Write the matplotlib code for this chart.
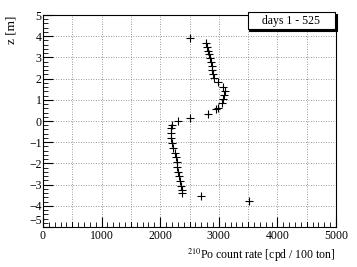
import matplotlib
matplotlib.use("Agg")
import matplotlib.pyplot as plt
from matplotlib.ticker import MultipleLocator
from matplotlib.patches import Rectangle

rate = [2776, 2793, 2821, 2838, 2855, 2867, 2878, 2890, 2907, 2918,
        2992, 3066, 3106, 3083, 3066, 3049, 2992, 2947, 2821, 2298,
        2207, 2184, 2179, 2179, 2196, 2224, 2247, 2264, 2281, 2292,
        2309, 2321, 2338, 2355, 2372, 2372,
        2509, 2509, 2691, 3510]
z = [3.66, 3.50, 3.32, 3.16, 2.96, 2.77, 2.59, 2.41, 2.22, 2.03,
     1.83, 1.62, 1.43, 1.23, 1.04, 0.83, 0.63, 0.55, 0.33, 0.00,
     -0.19, -0.35, -0.58, -0.82, -1.05, -1.29, -1.49, -1.71, -1.92, -2.15,
     -2.39, -2.59, -2.81, -3.05, -3.25, -3.41,
     3.90, 0.16, -3.54, -3.78]
x_ticks = [0, 1000, 2000, 3000, 4000, 5000]
y_ticks = [-5, -4, -3, -2, -1, 0, 1, 2, 3, 4, 5]
legend_text = "days 1 - 525"

plt.rcParams['font.family'] = ['Liberation Serif', 'DejaVu Serif']
plt.rcParams['mathtext.fontset'] = 'stix'

fig = plt.figure(figsize=(3.57, 2.67), dpi=100)
ax = fig.add_axes([43/357, 40/267, (336-43)/357, (227-15)/267])

ax.set_xlim(0, 5000)
ax.set_ylim(-5, 5)

# grid
for gx in range(500, 5000, 500):
    ax.axvline(gx, color='#777777', lw=0.6, ls=(0, (1, 2)), zorder=0)
for gy in y_ticks[1:-1]:
    ax.axhline(gy, color='#777777', lw=0.6, ls=(0, (1, 2)), zorder=0)

ax.plot(rate, z, ls='none', marker='+', color='black', ms=5.5, mew=0.8, zorder=3)

ax.set_xticks(x_ticks)
ax.set_yticks(y_ticks)
ax.xaxis.set_minor_locator(MultipleLocator(100))
ax.yaxis.set_minor_locator(MultipleLocator(0.2))
ax.tick_params(axis='both', which='major', direction='in', length=7, width=0.8,
               labelsize=8.5, top=False, right=False)
ax.tick_params(axis='both', which='minor', direction='in', length=3.5, width=0.6,
               top=False, right=False)
ax.tick_params(axis='x', pad=2.5)
ax.tick_params(axis='y', pad=1)
# mid ticks at 500s
for mx in range(500, 5000, 1000):
    ax.plot([mx, mx], [-5, -5 + 0.24], color='black', lw=0.6, zorder=2)

# nudge the -5 label up a little to avoid touching the 0 label
for lbl in ax.get_yticklabels():
    if lbl.get_text() in ('\u22125', '-5'):
        lbl.set_verticalalignment('bottom')

for sp in ax.spines.values():
    sp.set_linewidth(0.8)

fig.text(336/357, 1 - 255/267, r"$^{\mathrm{210}}$Po count rate [cpd / 100 ton]",
         ha='right', va='center', fontsize=8.5)
fig.text(12/357, 1 - 30/267, "z [m]", rotation=90, ha='center', va='center', fontsize=9.5)

# legend box with shadow
bx0, by0, bw, bh = 248/357, 1 - 29/267, 87/357, 17/267
fig.patches.append(Rectangle((bx0 + 1.5/357, by0 - 1.5/267), bw, bh, transform=fig.transFigure,
                             facecolor='black', edgecolor='black', lw=0.8, zorder=5))
fig.patches.append(Rectangle((bx0, by0), bw, bh, transform=fig.transFigure,
                             facecolor='white', edgecolor='black', lw=0.8, zorder=6))
t = fig.text(bx0 + bw/2, by0 + bh/2, legend_text, ha='center', va='center', fontsize=8.5)
t.set_zorder(7)

fig.savefig("out.png", dpi=100)
